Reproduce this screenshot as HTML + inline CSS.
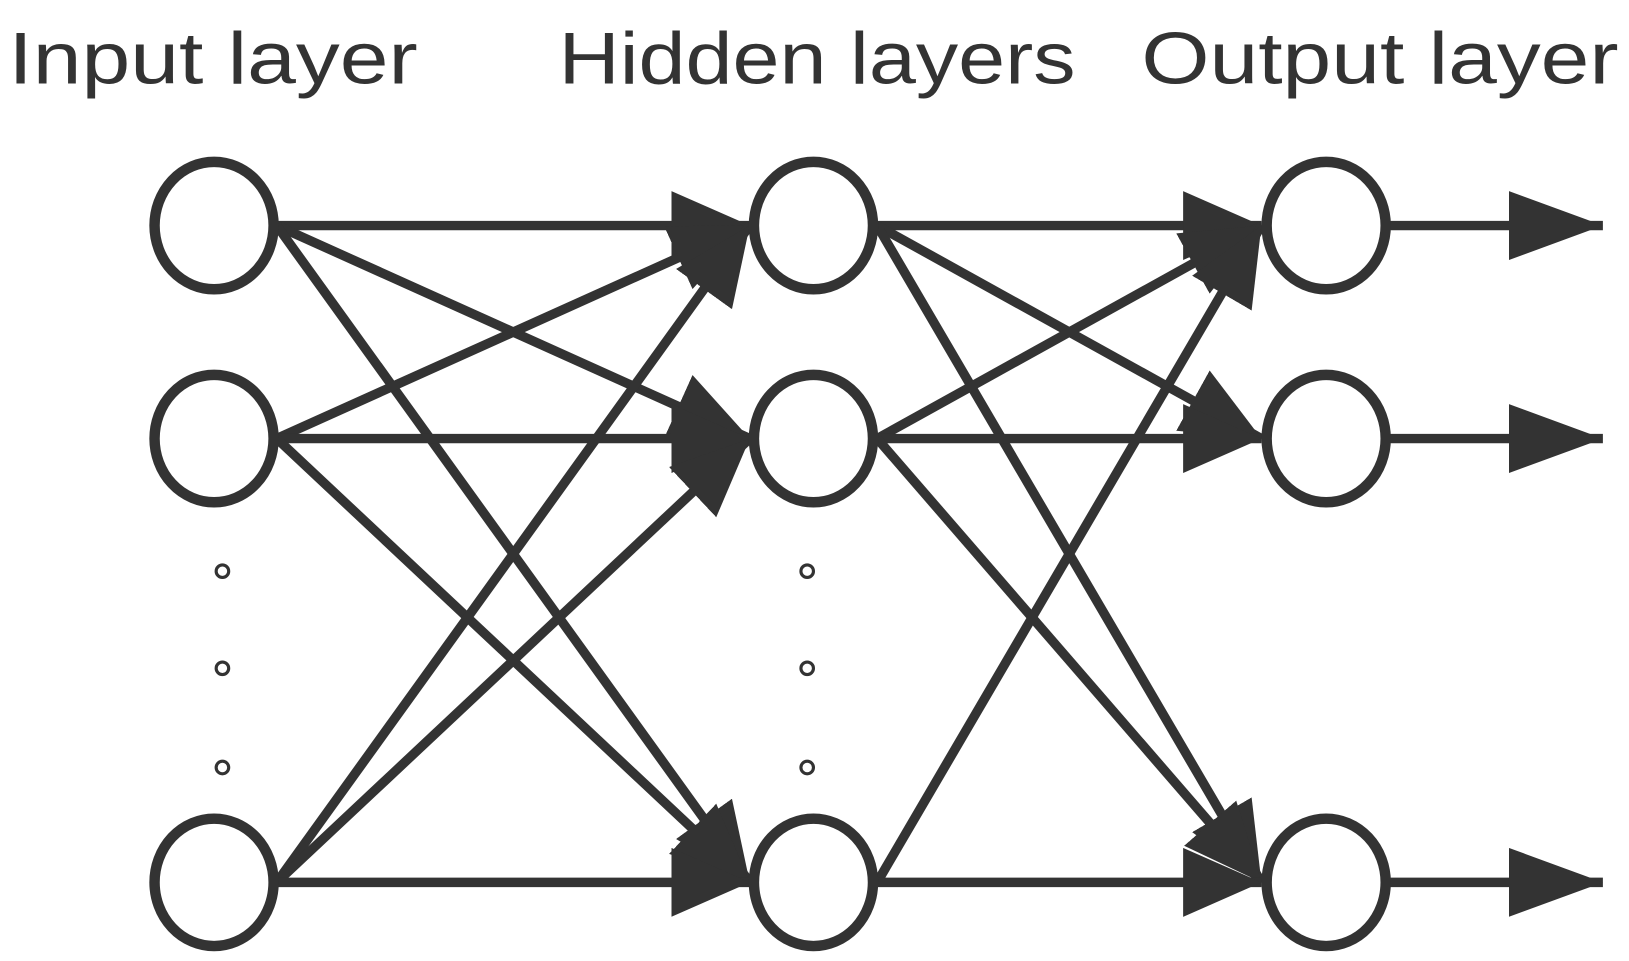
<!DOCTYPE html>
<html><head><meta charset="utf-8"><style>
html,body{margin:0;padding:0;background:#fff;}
svg{display:block}
text{font-family:"Liberation Sans",sans-serif;fill:#333;font-size:70px}
</style></head><body>
<svg width="1629" height="961" viewBox="0 0 1560 920.3" xmlns="http://www.w3.org/2000/svg">
<defs>
<marker id="a" viewBox="0 0 10 10" refX="10" refY="5" markerUnits="userSpaceOnUse" markerWidth="75" markerHeight="66" orient="auto" preserveAspectRatio="none">
<path d="M0,0 L10,5 L0,10 z" fill="#333"/></marker>
<marker id="b" viewBox="0 0 10 10" refX="10" refY="5" markerUnits="userSpaceOnUse" markerWidth="90" markerHeight="66" orient="auto" preserveAspectRatio="none">
<path d="M0,0 L10,5 L0,10 z" fill="#333"/></marker>
</defs>
<text x="8" y="80" textLength="392" lengthAdjust="spacingAndGlyphs">Input layer</text>
<text x="535" y="80" textLength="495" lengthAdjust="spacingAndGlyphs">Hidden layers</text>
<text x="1093" y="80" textLength="457" lengthAdjust="spacingAndGlyphs">Output layer</text>
<g stroke="#333" stroke-width="9" fill="none" marker-end="url(#a)">
<line x1="265" y1="216" x2="718" y2="216"/>
<line x1="265" y1="216" x2="718" y2="420"/>
<line x1="265" y1="216" x2="718" y2="845"/>
<line x1="265" y1="420" x2="718" y2="216"/>
<line x1="265" y1="420" x2="718" y2="420"/>
<line x1="265" y1="420" x2="718" y2="845"/>
<line x1="265" y1="845" x2="718" y2="216"/>
<line x1="265" y1="845" x2="718" y2="420"/>
<line x1="265" y1="845" x2="718" y2="845"/>
<line x1="840" y1="216" x2="1208" y2="216"/>
<line x1="840" y1="216" x2="1208" y2="420"/>
<line x1="840" y1="216" x2="1208" y2="845"/>
<line x1="840" y1="420" x2="1208" y2="216"/>
<line x1="840" y1="420" x2="1208" y2="420"/>
<line x1="840" y1="420" x2="1208" y2="845"/>
<line x1="840" y1="845" x2="1208" y2="216"/>
<line x1="840" y1="845" x2="1208" y2="845"/>
</g>
<g stroke="#333" stroke-width="9" fill="none" marker-end="url(#b)">
<line x1="1330" y1="216" x2="1535" y2="216"/>
<line x1="1330" y1="420" x2="1535" y2="420"/>
<line x1="1330" y1="845" x2="1535" y2="845"/>
</g>
<g stroke="#333" stroke-width="10" fill="#fff">
<ellipse cx="205" cy="216" rx="57" ry="61"/>
<ellipse cx="205" cy="420" rx="57" ry="61"/>
<ellipse cx="205" cy="845" rx="57" ry="61"/>
<ellipse cx="779" cy="216" rx="57" ry="61"/>
<ellipse cx="779" cy="420" rx="57" ry="61"/>
<ellipse cx="779" cy="845" rx="57" ry="61"/>
<ellipse cx="1270" cy="216" rx="57" ry="61"/>
<ellipse cx="1270" cy="420" rx="57" ry="61"/>
<ellipse cx="1270" cy="845" rx="57" ry="61"/>
</g>
<g stroke="#333" stroke-width="3" fill="#fff">
<circle cx="213" cy="547" r="6"/><circle cx="213" cy="640" r="6"/><circle cx="213" cy="735" r="6"/>
<circle cx="773" cy="547" r="6"/><circle cx="773" cy="640" r="6"/><circle cx="773" cy="735" r="6"/>
</g>
</svg>
</body></html>
